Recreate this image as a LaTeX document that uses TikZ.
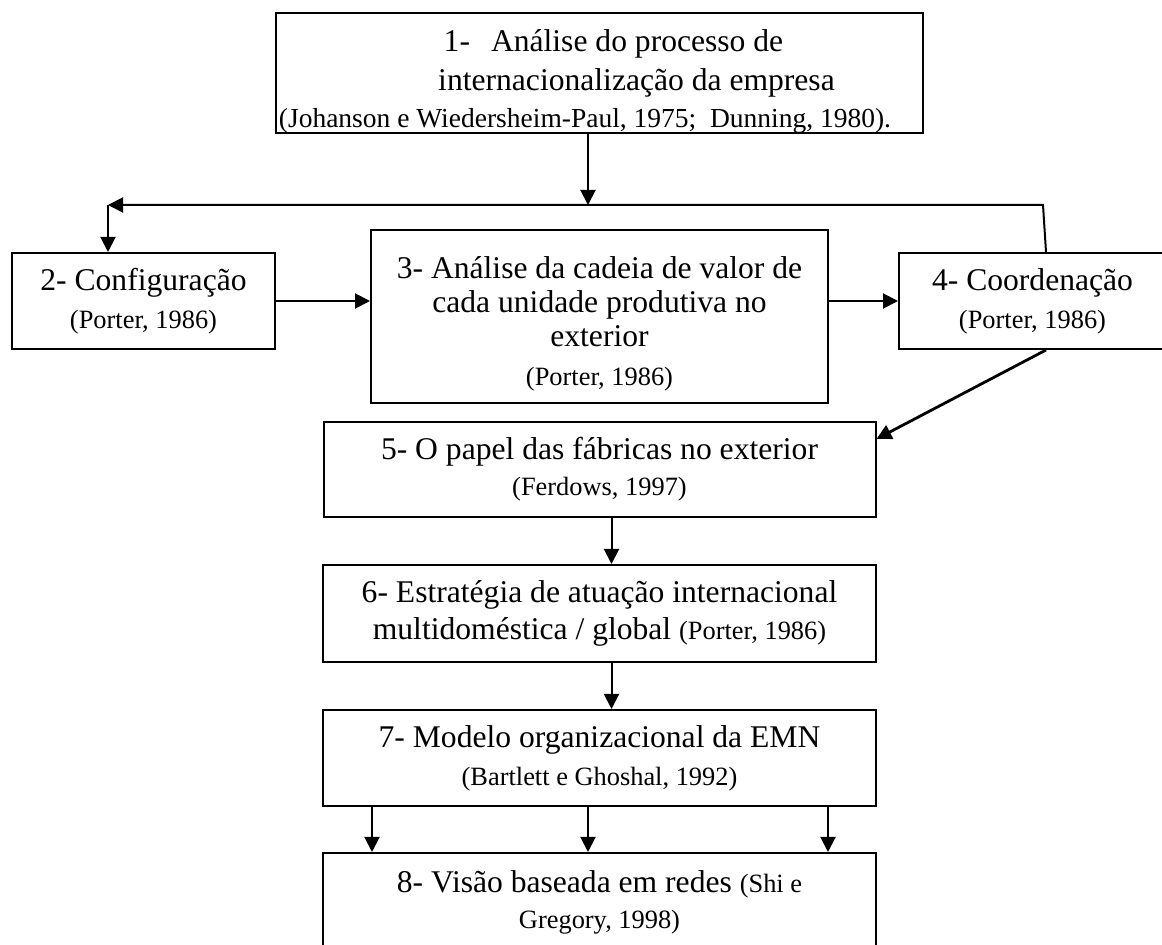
\documentclass[tikz,border=0pt]{standalone}
\usepackage{fontspec}
\setmainfont{Liberation Serif}
\usetikzlibrary{arrows.meta}
\newcommand{\fonte}{\fontsize{13.2}{15}\selectfont}
\tikzset{
  caixa/.style={draw, line width=1pt, inner sep=0pt, align=center,
    font=\fontsize{15.8}{17}\selectfont},
  seta/.style={line width=1pt, -{Triangle[length=7.5pt,width=7.5pt]}},
}
\begin{document}
\begin{tikzpicture}[x=0.5pt,y=-0.5pt]
  \path[fill=white] (0,0) rectangle (1162,945);
  \useasboundingbox (0,0) rectangle (1162,945);
  % caixas
  \node[caixa, minimum width=323.5pt, minimum height=60pt,
        font=\fontsize{15.8}{19.5}\selectfont] (fase1) at (599.5,73)
    {\rule{0pt}{19pt}\hspace*{14pt}1-\hspace{10.5pt}Análise do processo de\\
     \hspace*{37pt}internacionalização da empresa\\[-1pt]
     {\fontsize{13.75}{15}\selectfont (Johanson e Wiedersheim-Paul, 1975;\ \ Dunning, 1980).}\hspace*{14.5pt}};
  \node[caixa, minimum width=131.5pt, minimum height=48pt] (fase2) at (143.5,301)
    {2- Configuração\\[2pt] {\fonte (Porter, 1986)}};
  \node[caixa, minimum width=228.5pt, minimum height=86.5pt] (fase3) at (599.5,316.5)
    {\rule{0pt}{18pt}3-\ Análise da cadeia de valor de\\ cada unidade produtiva no\\ exterior\\[2.5pt]
     {\fonte (Porter, 1986)}};
  \node[caixa, minimum width=133.5pt, minimum height=48pt] (fase4) at (1032.5,301)
    {4- Coordenação\\[2pt] {\fonte (Porter, 1986)}};
  \node[caixa, minimum width=276pt, minimum height=47.5pt] (fase5) at (599.5,469.5)
    {5- O papel das fábricas no exterior\\[1pt] {\fonte (Ferdows, 1997)}};
  \node[caixa, minimum width=276.5pt, minimum height=48.5pt] (fase6) at (599.5,613.5)
    {6- Estratégia de atuação internacional\\[1.5pt]
     multidoméstica / global\ {\fonte (Porter, 1986)}};
  \node[caixa, minimum width=276.5pt, minimum height=48pt] (fase7) at (599.5,758)
    {7- Modelo organizacional da EMN\\[2pt] {\fonte (Bartlett e Ghoshal, 1992)}};
  \node[caixa, minimum width=276.5pt, minimum height=49.5pt] (fase8) at (599.5,902.5)
    {8- Visão baseada em redes {\fonte (Shi e}\\[1pt] {\fonte Gregory, 1998)}};
  % barramento de retorno
  \coordinate (busE) at (108,205);
  \coordinate (busM) at (588,205);
  \coordinate (busD) at (1043,205);
  \draw[seta] (fase1.south -| busM) -- (busM);
  \draw[seta] ([xshift=6.75pt]fase4.north) -- (busD) -- (busE);
  \draw[seta] (busE) -- (busE |- fase2.north);
  % fluxo
  \draw[seta] (fase2.east) -- (fase2.east -| fase3.west);
  \draw[seta] (fase4.west -| fase3.east) -- (fase4.west);
  \draw[seta, line width=1.4pt] ([xshift=6.75pt]fase4.south) -- ([yshift=-9pt]fase5.north east);
  \draw[seta] ([xshift=6pt]fase5.south) -- ([xshift=6pt]fase6.north);
  \draw[seta] ([xshift=6pt]fase6.south) -- ([xshift=6pt]fase7.north);
  \foreach \dx in {-113.75pt,-5.75pt,114.25pt}
    \draw[seta] ([xshift=\dx]fase7.south) -- ([xshift=\dx]fase8.north);
\end{tikzpicture}
\end{document}
